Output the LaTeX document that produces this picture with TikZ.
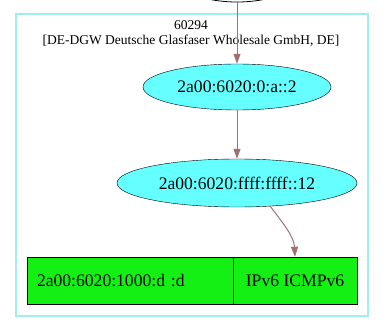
\documentclass[tikz,border=0pt]{standalone}
\usepackage{fontspec}
\setmainfont{Liberation Serif}
\usetikzlibrary{shapes.geometric,arrows.meta}
\definecolor{edgec}{RGB}{160,112,112}
\definecolor{cyanfill}{RGB}{102,255,255}
\definecolor{clusterc}{RGB}{160,238,238}
\definecolor{greenfill}{RGB}{20,240,20}
\tikzset{
  ipnode/.style={ellipse, draw=black, fill=cyanfill, inner sep=0pt, font=\fontsize{17.6}{19}\selectfont},
  fieldbox/.style={rectangle, draw=black, fill=greenfill, inner sep=0pt, minimum height=47pt, font=\fontsize{17.6}{19}\selectfont},
  edgeline/.style={draw=edgec, line width=1pt, -{Triangle[length=10pt,width=7pt]}},
}
\begin{document}
\begin{tikzpicture}[x=1pt,y=-1pt]
\clip (0,0) rectangle (386,332);
\draw[clusterc, line width=1.3pt] (16,14) rectangle (368,316);
\node[font=\fontsize{13.5}{16}\selectfont, align=center] (lbl) at (191,34) {60294\\[-1pt][DE-DGW Deutsche Glasfaser Wholesale GmbH, DE]};
\node[ellipse, draw=black, line width=0.8pt, minimum width=118pt, minimum height=46pt, inner sep=0pt] (top) at (237,-21) {};
\node[ipnode, minimum width=188pt, minimum height=46pt] (e1) at (237,87) {2a00:6020:0:a::2};
\node[ipnode, minimum width=240pt, minimum height=48pt] (e2) at (237,183) {2a00:6020:ffff:ffff::12};
\node[fieldbox, minimum width=206pt, text width=186pt, align=left] (f1) at (130,280.5) {2a00:6020:1000:d :d};
\node[fieldbox, minimum width=124pt] (f2) at (295,280.5) {IPv6 ICMPv6};
\draw[edgeline] (top) -- (e1);
\draw[edgeline] (e1) -- (e2);
\draw[edgeline] (e2.-35) .. controls (282,222) and (294,236) .. (f2.north);
\end{tikzpicture}
\end{document}
